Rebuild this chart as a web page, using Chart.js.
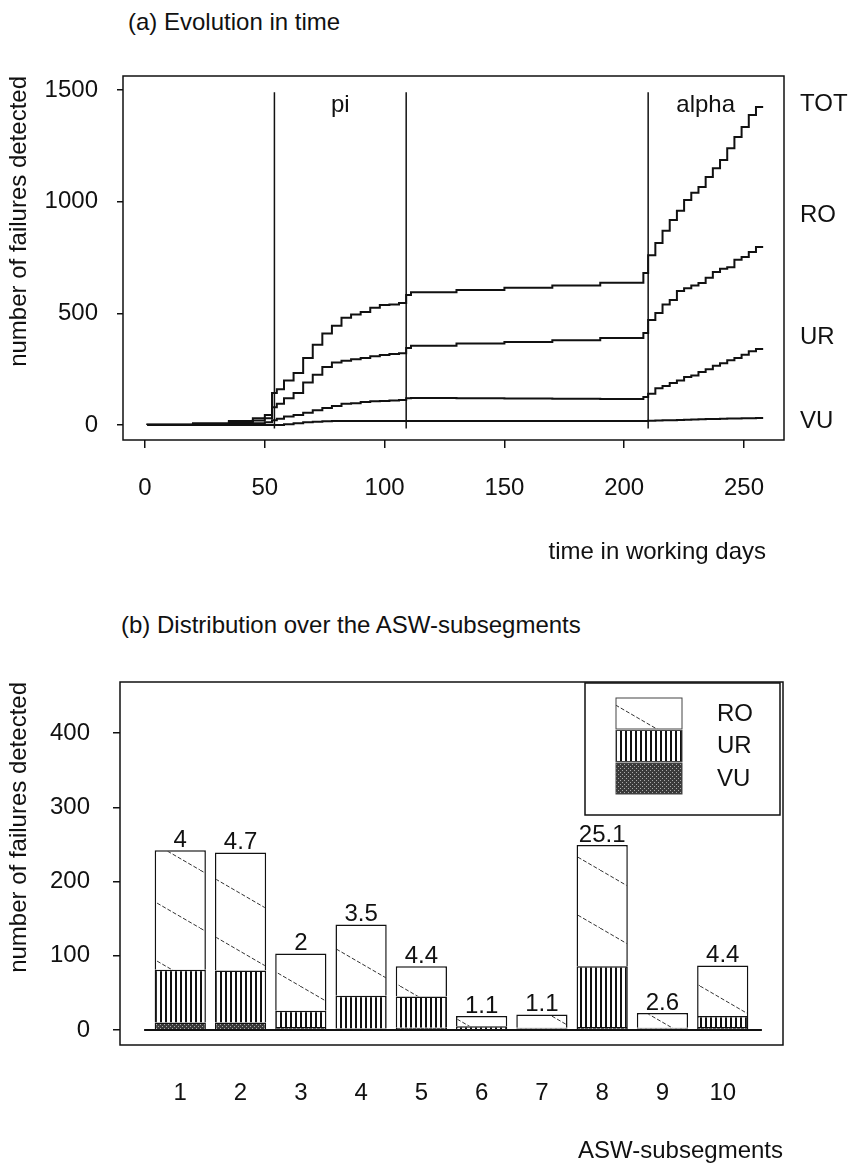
<!DOCTYPE html>
<html>
<head>
<meta charset="utf-8">
<title>Failures detected</title>
<script src="https://cdn.jsdelivr.net/npm/chart.js@4.4.1/dist/chart.umd.min.js"></script>
<style>
  body { margin: 0; background: #fff; font-family: 'Liberation Sans', Arial, sans-serif; }
  .wrap { position: relative; width: 857px; height: 1170px; }
  .titulo { position: absolute; font-size: 24px; line-height: 28px; color: #111; white-space: nowrap; }
  #chartA { position: absolute; left: 0; top: 0; }
  #chartB { position: absolute; left: 0; top: 580px; }
</style>
</head>
<body>
<div class="wrap">
  <div class="titulo" style="left:128px; top:8px;">(a) Evolution in time</div>
  <canvas id="chartA" width="857" height="580"></canvas>
  <div class="titulo" style="left:121px; top:611px;">(b) Distribution over the ASW-subsegments</div>
  <canvas id="chartB" width="857" height="590"></canvas>
</div>
<script>
// (a) cumulative failures per working day
const dias = [1, 20, 35, 45, 50, 53, 55, 58, 62, 66, 70, 74, 78, 82, 86, 90, 94, 98, 102, 106, 109,
  111, 130, 150, 170, 190, 208, 210, 213, 216, 219, 222, 225, 228, 231, 234, 237, 240, 243, 246, 249, 252, 255, 258];
const totValues = [0, 2, 8, 18, 30, 45, 143, 160, 200, 233, 300, 360, 410, 445, 480, 495, 506, 525, 537, 540, 546,
  582, 595, 605, 615, 625, 637, 681, 760, 815, 870, 918, 960, 1008, 1040, 1066, 1111, 1150, 1187, 1240, 1290, 1335, 1388, 1424];
const roValues = [0, 1, 5, 12, 20, 30, 80, 95, 120, 143, 190, 225, 260, 280, 288, 295, 300, 308, 314, 318, 322,
  345, 355, 365, 372, 380, 390, 412, 470, 502, 540, 560, 600, 613, 625, 636, 660, 685, 700, 707, 740, 752, 775, 797];
const urValues = [0, 0, 2, 5, 8, 12, 22, 28, 38, 45, 55, 66, 76, 85, 95, 98, 103, 106, 108, 110, 112,
  120, 121, 120, 119, 118, 117, 125, 140, 165, 175, 188, 200, 215, 222, 237, 250, 265, 277, 290, 300, 315, 330, 340];
const vuValues = [0, 0, 0, 0, 0, 0, 0, 0, 3, 8, 12, 15, 17, 18, 18, 18, 18, 18, 18, 18, 18,
  18, 18, 18, 18, 18, 18, 18, 19, 20, 21, 22, 23, 24, 25, 26, 27, 27, 28, 29, 29, 30, 30, 31];
const seriesNames = ['TOT', 'RO', 'UR', 'VU'];
const xTicksA = [0, 50, 100, 150, 200, 250];
const yTicksA = [0, 500, 1000, 1500];
const phaseDays = [54, 109, 210];
const phaseNames = ['pi', 'alpha'];

// (b) failures per ASW-subsegment
const segmentos = [1, 2, 3, 4, 5, 6, 7, 8, 9, 10];
const roCounts = [161, 159, 77, 96, 41, 14, 18, 163, 20, 68];
const urCounts = [71, 70, 22, 44, 42, 4, 1, 82, 1, 15];
const vuCounts = [10, 10, 4, 2, 3, 1, 2, 4, 2, 4];
const barLabels = [4, 4.7, 2, 3.5, 4.4, 1.1, 1.1, 25.1, 2.6, 4.4];
const yTicksB = [0, 100, 200, 300, 400];

const FONT = "'Liberation Sans', Arial, sans-serif";
const INK = '#111';
Chart.defaults.font.family = FONT;
Chart.defaults.font.size = 24;
Chart.defaults.color = INK;

const toPoints = (xs, ys) => xs.map((x, i) => ({ x: x, y: ys[i] }));
const plain = (v) => String(v);

const marcoA = {
  id: 'marcoA',
  afterDatasetsDraw(chart) {
    const { ctx, chartArea: a, scales: { x, y } } = chart;
    ctx.save();
    ctx.strokeStyle = INK;
    ctx.lineWidth = 1.5;
    ctx.strokeRect(a.left, a.top, a.right - a.left, a.bottom - a.top);

    phaseDays.forEach((d) => {
      const px = x.getPixelForValue(d);
      ctx.beginPath();
      ctx.moveTo(px, y.getPixelForValue(1490));
      ctx.lineTo(px, y.getPixelForValue(-15));
      ctx.stroke();
    });

    ctx.fillStyle = INK;
    ctx.font = '24px ' + FONT;
    ctx.textBaseline = 'middle';
    ctx.textAlign = 'center';
    const lastDay = dias[dias.length - 1];
    const tramos = [[phaseDays[0], phaseDays[1]], [phaseDays[2], lastDay]];
    tramos.forEach((t, i) => {
      ctx.fillText(phaseNames[i], x.getPixelForValue((t[0] + t[1]) / 2), y.getPixelForValue(1430));
    });

    // series names right of the frame
    const niveles = [1437, 940, 394, 18];
    ctx.textAlign = 'left';
    seriesNames.forEach((n, i) => ctx.fillText(n, a.right + 16, y.getPixelForValue(niveles[i])));

    ctx.textAlign = 'right';
    ctx.fillText('time in working days', a.right - 18, 552);
    ctx.restore();
  }
};

const lineStyle = { borderColor: INK, borderWidth: 2, pointRadius: 0, stepped: 'after', fill: false };

new Chart(document.getElementById('chartA'), {
  type: 'line',
  data: {
    datasets: [
      { label: 'TOT', data: toPoints(dias, totValues), ...lineStyle },
      { label: 'RO', data: toPoints(dias, roValues), ...lineStyle },
      { label: 'UR', data: toPoints(dias, urValues), ...lineStyle },
      { label: 'VU', data: toPoints(dias, vuValues), ...lineStyle }
    ]
  },
  options: {
    responsive: false,
    animation: false,
    layout: { padding: { left: 5, top: 76, right: 73, bottom: 10 } },
    plugins: { legend: { display: false }, tooltip: { enabled: false } },
    scales: {
      x: {
        type: 'linear',
        min: -9.2,
        max: 266.7,
        afterBuildTicks: (s) => { s.ticks = xTicksA.map((v) => ({ value: v })); },
        afterFit: (s) => { s.height = 130; },
        grid: { drawOnChartArea: false, tickLength: 8, color: INK, lineWidth: 1.5 },
        border: { display: false },
        ticks: { padding: 26, maxRotation: 0, autoSkip: false, color: INK, callback: plain }
      },
      y: {
        type: 'linear',
        min: -67,
        max: 1563,
        afterBuildTicks: (s) => { s.ticks = yTicksA.map((v) => ({ value: v })); },
        afterFit: (s) => { s.width = 118; },
        grid: { drawOnChartArea: false, tickLength: 6, color: INK, lineWidth: 1.5 },
        border: { display: false },
        ticks: { padding: 19, color: INK, callback: plain },
        title: { display: true, text: 'number of failures detected', align: 'end', padding: 0, color: INK }
      }
    }
  },
  plugins: [marcoA]
});

// fill patterns of the bar segments
const patron = (tipo) => {
  const c = document.createElement('canvas');
  const g = c.getContext('2d');
  if (tipo === 'RO') {
    c.width = 100; c.height = 58;
    g.fillStyle = '#fff'; g.fillRect(0, 0, 100, 58);
    g.strokeStyle = '#333'; g.lineWidth = 1; g.setLineDash([4, 2]);
    g.beginPath(); g.moveTo(0, 0); g.lineTo(100, 58); g.stroke();
  } else if (tipo === 'UR') {
    c.width = 5; c.height = 4;
    g.fillStyle = '#fff'; g.fillRect(0, 0, 5, 4);
    g.fillStyle = '#111'; g.fillRect(0, 0, 2, 4);
  } else {
    c.width = 4; c.height = 4;
    g.fillStyle = '#3a3a3a'; g.fillRect(0, 0, 4, 4);
    g.fillStyle = '#aaa'; g.fillRect(0, 0, 1, 1); g.fillRect(2, 2, 1, 1);
  }
  return g.createPattern(c, 'repeat');
};

const marcoB = {
  id: 'marcoB',
  afterDatasetsDraw(chart) {
    const { ctx, chartArea: a, scales: { x, y } } = chart;
    ctx.save();
    ctx.strokeStyle = INK;
    ctx.lineWidth = 1.5;
    ctx.strokeRect(a.left, a.top, a.right - a.left, a.bottom - a.top);

    // zero line under the bars
    ctx.lineWidth = 2;
    ctx.beginPath();
    ctx.moveTo(x.getPixelForValue(0.4), y.getPixelForValue(0));
    ctx.lineTo(x.getPixelForValue(10.65), y.getPixelForValue(0));
    ctx.stroke();

    // numbers over the stacks
    ctx.fillStyle = INK;
    ctx.font = '24px ' + FONT;
    ctx.textAlign = 'center';
    ctx.textBaseline = 'bottom';
    const top = chart.getDatasetMeta(chart.data.datasets.length - 1);
    top.data.forEach((bar, i) => ctx.fillText(String(barLabels[i]), bar.x, bar.y + 2));

    // legend box
    const lw = 195, lh = 132;
    const lx = a.right - lw - 3, ly = a.top + 1;
    ctx.lineWidth = 1.5;
    ctx.strokeRect(lx, ly, lw, lh);
    ctx.textAlign = 'left';
    ctx.textBaseline = 'middle';
    const ds = chart.data.datasets.slice().reverse();
    ds.forEach((d, i) => {
      const sy = ly + 15 + i * 32.5;
      ctx.fillStyle = d.backgroundColor;
      ctx.fillRect(lx + 31, sy, 66, 31);
      ctx.lineWidth = 1;
      ctx.strokeStyle = '#444';
      ctx.strokeRect(lx + 31, sy, 66, 31);
      ctx.fillStyle = INK;
      ctx.fillText(d.label, lx + 132, sy + 16);
    });
    ctx.restore();
  }
};

const barStyle = { borderColor: INK, borderWidth: 1.5, barPercentage: 0.85, categoryPercentage: 1 };

new Chart(document.getElementById('chartB'), {
  type: 'bar',
  data: {
    datasets: [
      { label: 'VU', data: toPoints(segmentos, vuCounts), backgroundColor: patron('VU'), ...barStyle },
      { label: 'UR', data: toPoints(segmentos, urCounts), backgroundColor: patron('UR'), ...barStyle },
      { label: 'RO', data: toPoints(segmentos, roCounts), backgroundColor: patron('RO'), ...barStyle }
    ]
  },
  options: {
    responsive: false,
    animation: false,
    layout: { padding: { left: 5, top: 102, right: 74, bottom: 4 } },
    plugins: { legend: { display: false }, tooltip: { enabled: false } },
    scales: {
      x: {
        type: 'linear',
        stacked: true,
        min: 0,
        max: 11,
        offset: false,
        afterBuildTicks: (s) => { s.ticks = segmentos.map((v) => ({ value: v })); },
        afterFit: (s) => { s.height = 121; },
        grid: { display: false, drawTicks: false },
        border: { display: false },
        ticks: { padding: 34, maxRotation: 0, autoSkip: false, color: INK, callback: plain },
        title: { display: true, text: 'ASW-subsegments', align: 'end', padding: 0, color: INK }
      },
      y: {
        type: 'linear',
        stacked: true,
        min: -20.2,
        max: 468.7,
        afterBuildTicks: (s) => { s.ticks = yTicksB.map((v) => ({ value: v })); },
        afterFit: (s) => { s.width = 115; },
        grid: { drawOnChartArea: false, tickLength: 7, color: INK, lineWidth: 1.5 },
        border: { display: false },
        ticks: { padding: 23, color: INK, callback: plain },
        title: { display: true, text: 'number of failures detected', align: 'end', padding: 0, color: INK }
      }
    }
  },
  plugins: [marcoB]
});
</script>
</body>
</html>
